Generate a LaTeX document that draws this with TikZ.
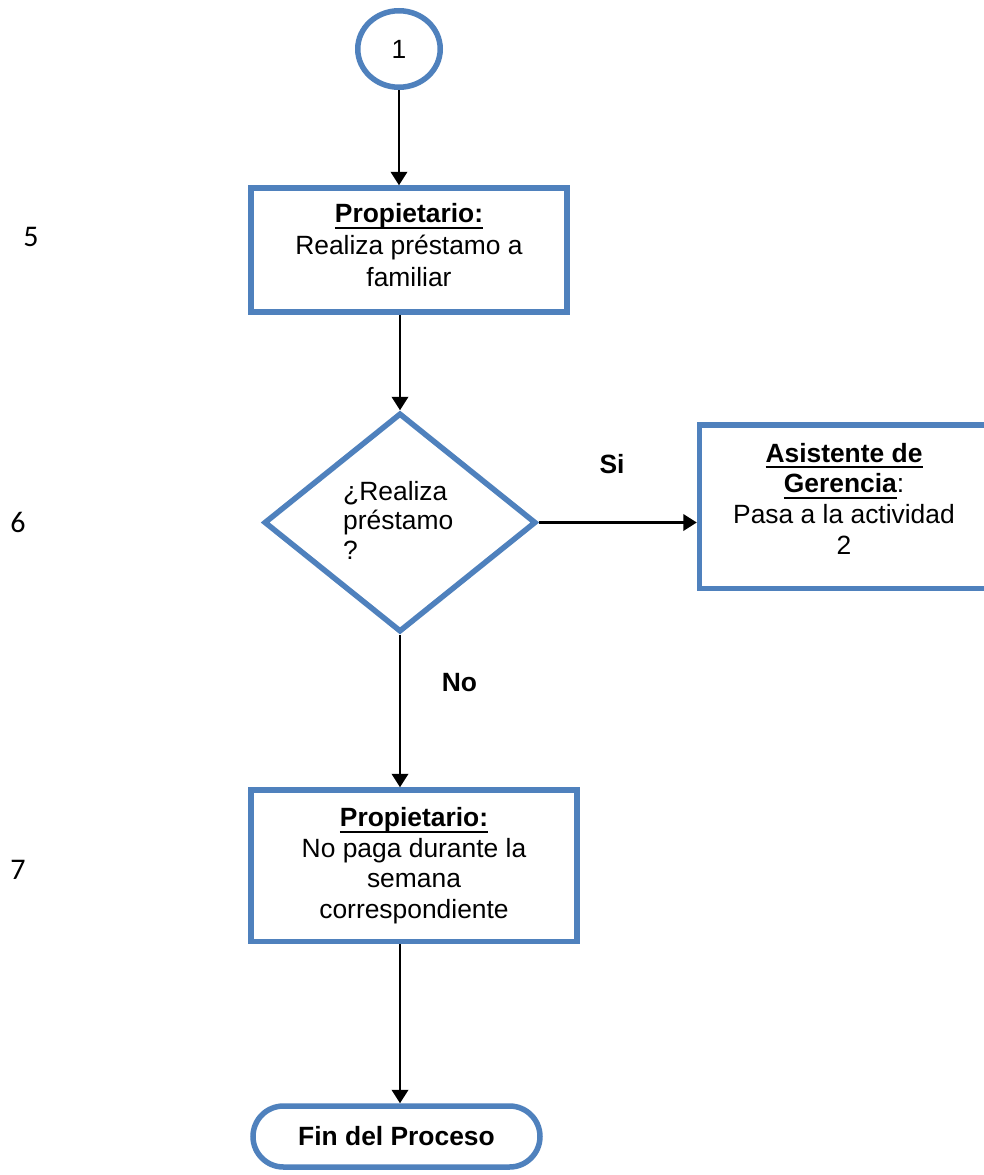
\documentclass[tikz,border=0pt]{standalone}
\usepackage{fontspec}
\setmainfont{Liberation Sans}
\newfontfamily\calib{Carlito}
\usetikzlibrary{arrows.meta,shapes.geometric,shapes.misc}
\definecolor{obl}{RGB}{79,129,189}
\newsavebox\ulbx
\newcommand\ulin[1]{\sbox\ulbx{#1}\rlap{\rule[-6.4pt]{\wd\ulbx}{2.3pt}}\usebox\ulbx}
\begin{document}
\begin{tikzpicture}[x=1pt,y=-1pt,
  shapebox/.style={draw=obl, line width=5.5pt, inner sep=0pt, fill=white},
  txt/.style={inner sep=0pt, align=center, font=\fontsize{26.4}{31}\selectfont},
  arr/.style={line width=2.3pt, -{Triangle[length=13.5pt,width=16.5pt]}},
  lbl/.style={inner sep=0pt, anchor=base, font=\fontsize{26.4}{31}\selectfont\bfseries},
  num/.style={inner sep=0pt, anchor=base, font=\calib\fontsize{30}{36}\selectfont}]
\fill[white] (0,0) rectangle (984,1175);
\path[use as bounding box] (0,0) rectangle (984,1175);

\node[shapebox, ellipse, minimum width=82.5pt, minimum height=76.5pt, font=\fontsize{26.4}{31}\selectfont] (c1) at (399,49) {1};

\node[shapebox, rectangle, minimum width=316pt, minimum height=124pt] (b1) at (409,250) {};
\node[txt, font=\fontsize{26.4}{32}\selectfont] (t1) at (409,245.3) {\textbf{\ulin{Propietario:}}\\Realiza préstamo a\\familiar};

\node[shapebox, diamond, minimum width=272pt, minimum height=219pt] (d) at (400,522.5) {};
\node[txt, align=left, anchor=west, font=\fontsize{26.4}{29.5}\selectfont] (dt) at (343,520) {¿Realiza\\préstamo\\?};

\node[shapebox, rectangle, minimum width=289pt, minimum height=163.5pt] (b2) at (844,506.75) {};
\node[txt, font=\fontsize{26.4}{30.7}\selectfont] (t2) at (844,498.5) {\textbf{\ulin{Asistente de}}\\\textbf{\ulin{Gerencia}}:\\Pasa a la actividad\\2};

\node[shapebox, rectangle, minimum width=326pt, minimum height=151.5pt] (b3) at (414,865.75) {};
\node[txt, font=\fontsize{26.4}{30.5}\selectfont] (t3) at (414,865.6) {\textbf{\ulin{Propietario:}}\\No paga durante la\\semana\\correspondiente};

\node[shapebox, rounded rectangle, minimum width=287pt, minimum height=61pt, font=\bfseries\fontsize{26.4}{31}\selectfont] (fin) at (396.5,1136.5) {Fin del Proceso};

\node[lbl] (si) at (612,473) {Si};
\node[lbl] (no) at (459.5,691) {No};
\node[num] (n5) at (31,246.7) {5};
\node[num] (n6) at (18,532) {6};
\node[num] (n7) at (18,879) {7};

\draw[arr] (c1.south) -- (c1.south |- b1.north);
\draw[arr] (d.north |- b1.south) -- (d.north);
\draw[arr] (d.east) -- (d.east -| b2.west);
\draw[arr] (d.south) -- (d.south |- b3.north);
\draw[arr] (d.south |- b3.south) -- (d.south |- fin.north);
\end{tikzpicture}
\end{document}
